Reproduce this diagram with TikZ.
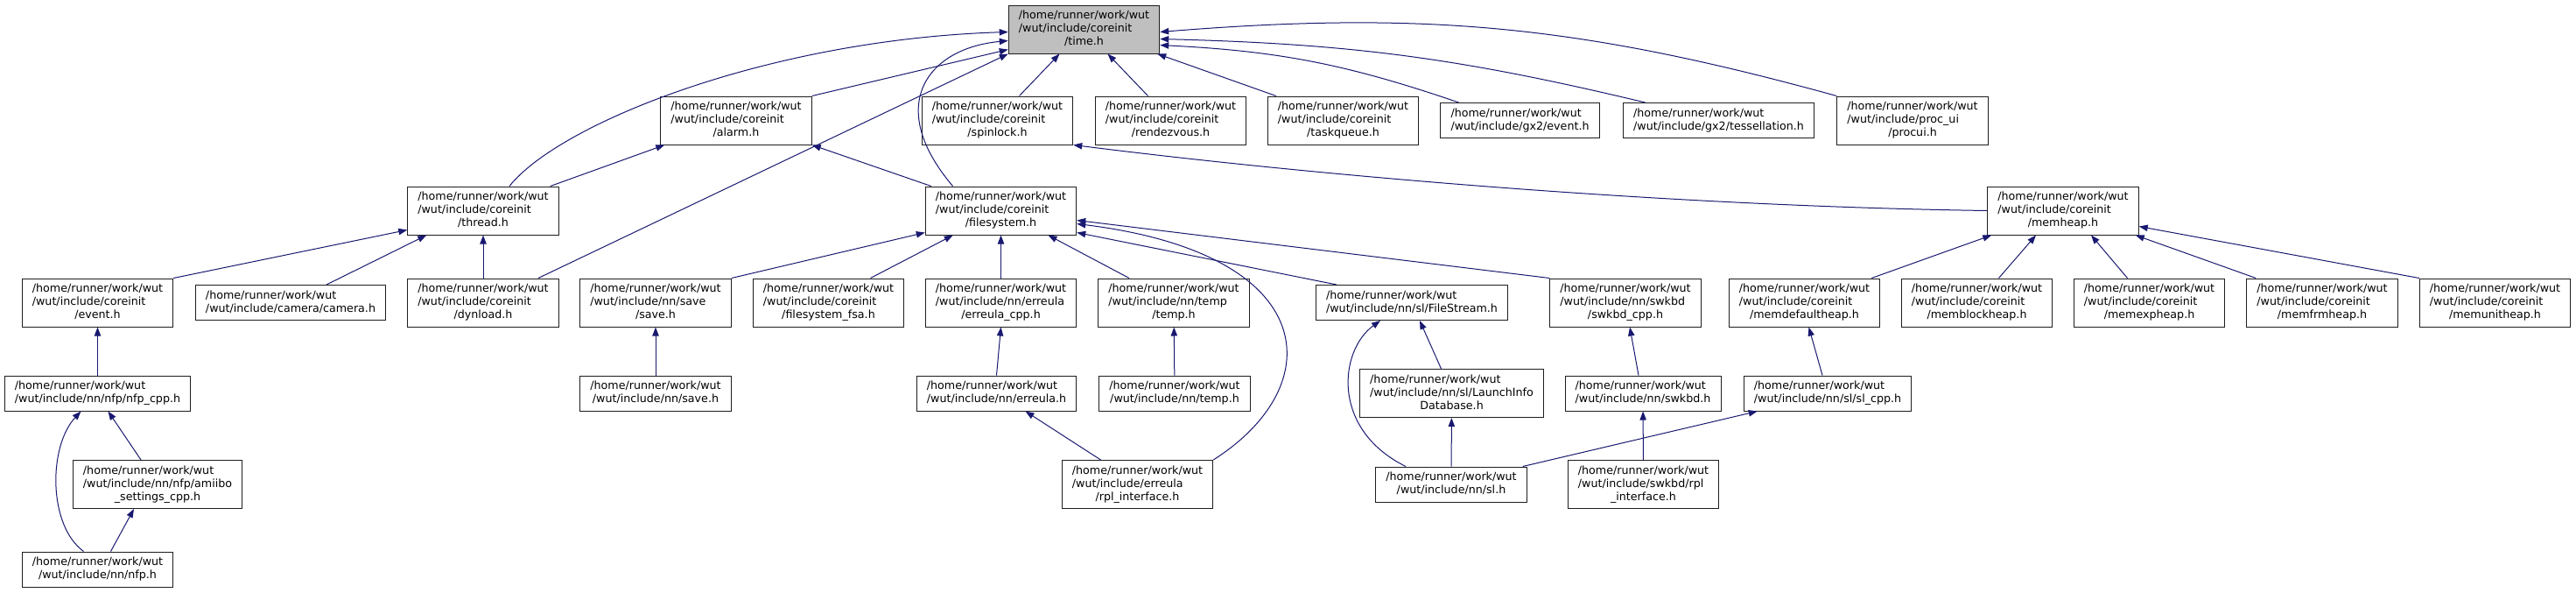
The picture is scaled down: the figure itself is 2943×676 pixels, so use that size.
\documentclass[tikz,border=0pt]{standalone}
\usepackage{fontspec}
\setmainfont{DejaVu Sans}
\usepackage{xcolor}
\definecolor{dxblue}{RGB}{25,25,112}
\definecolor{dxgray}{RGB}{191,191,191}
\definecolor{dxline}{RGB}{30,30,30}
\usetikzlibrary{arrows.meta,calc}
\newcommand{\incfile}[2]{\begin{tabular}{@{}l@{}}#1\\\multicolumn{1}{@{}c@{}}{#2}\end{tabular}}

\begin{document}
\begin{tikzpicture}[
  x=0.75pt,y=-0.75pt,
  every node/.style={font=\fontsize{9.5}{11.25}\selectfont},
  filebox/.style={draw=dxline,fill=white,line width=0.75pt,inner xsep=8.7pt,inner ysep=3.75pt},
  rootbox/.style={filebox,fill=dxgray},
  dep/.style={-{Triangle[length=7.5pt,width=5.5pt]},line width=0.75pt,dxblue},
]
  \useasboundingbox (0,0) rectangle (2943,676);

  % Root
  \node[rootbox] (time) at (1238.5,33.5) {\incfile{/home/runner/work/wut\\/wut/include/coreinit}{/time.h}};

  % Direct includers
  \node[filebox] (alarm) at (841,137.5) {\incfile{/home/runner/work/wut\\/wut/include/coreinit}{/alarm.h}};
  \node[filebox] (spinlock) at (1139.5,137.5) {\incfile{/home/runner/work/wut\\/wut/include/coreinit}{/spinlock.h}};
  \node[filebox] (rendezvous) at (1337.5,137.5) {\incfile{/home/runner/work/wut\\/wut/include/coreinit}{/rendezvous.h}};
  \node[filebox] (taskqueue) at (1534.5,137.5) {\incfile{/home/runner/work/wut\\/wut/include/coreinit}{/taskqueue.h}};
  \node[filebox] (gx2event) at (1736.5,137.5) {\incfile{/home/runner/work/wut}{/wut/include/gx2/event.h}};
  \node[filebox] (tessellation) at (1963.5,137.5) {\incfile{/home/runner/work/wut}{/wut/include/gx2/tessellation.h}};
  \node[filebox] (procui) at (2185,137.5) {\incfile{/home/runner/work/wut\\/wut/include/proc\_ui}{/procui.h}};

  % Second level
  \node[filebox] (thread) at (552,240.5) {\incfile{/home/runner/work/wut\\/wut/include/coreinit}{/thread.h}};
  \node[filebox] (filesystem) at (1143.5,240.5) {\incfile{/home/runner/work/wut\\/wut/include/coreinit}{/filesystem.h}};
  \node[filebox] (memheap) at (2357,240.5) {\incfile{/home/runner/work/wut\\/wut/include/coreinit}{/memheap.h}};

  % Third level
  \node[filebox] (cevent) at (111.5,345.5) {\incfile{/home/runner/work/wut\\/wut/include/coreinit}{/event.h}};
  \node[filebox] (camera) at (332,345.5) {\incfile{/home/runner/work/wut}{/wut/include/camera/camera.h}};
  \node[filebox] (dynload) at (552,345.5) {\incfile{/home/runner/work/wut\\/wut/include/coreinit}{/dynload.h}};
  \node[filebox] (savedir) at (749,345.5) {\incfile{/home/runner/work/wut\\/wut/include/nn/save}{/save.h}};
  \node[filebox] (fsa) at (946.5,345.5) {\incfile{/home/runner/work/wut\\/wut/include/coreinit}{/filesystem\_fsa.h}};
  \node[filebox] (erreulacpp) at (1143.5,345.5) {\incfile{/home/runner/work/wut\\/wut/include/nn/erreula}{/erreula\_cpp.h}};
  \node[filebox] (tempdir) at (1341,345.5) {\incfile{/home/runner/work/wut\\/wut/include/nn/temp}{/temp.h}};
  \node[filebox] (filestream) at (1613,345.5) {\incfile{/home/runner/work/wut}{/wut/include/nn/sl/FileStream.h}};
  \node[filebox] (swkbdcpp) at (1857,345.5) {\incfile{/home/runner/work/wut\\/wut/include/nn/swkbd}{/swkbd\_cpp.h}};
  \node[filebox] (memdefault) at (2061.5,345.5) {\incfile{/home/runner/work/wut\\/wut/include/coreinit}{/memdefaultheap.h}};
  \node[filebox] (memblock) at (2258.5,345.5) {\incfile{/home/runner/work/wut\\/wut/include/coreinit}{/memblockheap.h}};
  \node[filebox] (memexp) at (2455.5,345.5) {\incfile{/home/runner/work/wut\\/wut/include/coreinit}{/memexpheap.h}};
  \node[filebox] (memfrm) at (2653,345.5) {\incfile{/home/runner/work/wut\\/wut/include/coreinit}{/memfrmheap.h}};
  \node[filebox] (memunit) at (2850.5,345.5) {\incfile{/home/runner/work/wut\\/wut/include/coreinit}{/memunitheap.h}};

  % Fourth level
  \node[filebox] (nfpcpp) at (111.5,449) {\incfile{/home/runner/work/wut}{/wut/include/nn/nfp/nfp\_cpp.h}};
  \node[filebox] (save) at (749,449) {\incfile{/home/runner/work/wut}{/wut/include/nn/save.h}};
  \node[filebox] (erreula) at (1138.5,449) {\incfile{/home/runner/work/wut}{/wut/include/nn/erreula.h}};
  \node[filebox] (temp) at (1342,449) {\incfile{/home/runner/work/wut}{/wut/include/nn/temp.h}};
  \node[filebox] (launchinfo) at (1658.5,449) {\incfile{/home/runner/work/wut\\/wut/include/nn/sl/LaunchInfo}{Database.h}};
  \node[filebox] (swkbd) at (1877,449) {\incfile{/home/runner/work/wut}{/wut/include/nn/swkbd.h}};
  \node[filebox] (slcpp) at (2088,449) {\incfile{/home/runner/work/wut}{/wut/include/nn/sl/sl\_cpp.h}};

  % Fifth level
  \node[filebox] (amiibo) at (180,553) {\incfile{/home/runner/work/wut\\/wut/include/nn/nfp/amiibo}{\_settings\_cpp.h}};
  \node[filebox] (rpl) at (1299.5,553) {\incfile{/home/runner/work/wut\\/wut/include/erreula}{/rpl\_interface.h}};
  \node[filebox] (sl) at (1658,553) {\incfile{/home/runner/work/wut}{/wut/include/nn/sl.h}};
  \node[filebox] (swkbdrpl) at (1877.5,553) {\incfile{/home/runner/work/wut\\/wut/include/swkbd/rpl}{\_interface.h}};

  % Sixth level
  \node[filebox] (nfp) at (111.5,650) {\incfile{/home/runner/work/wut}{/wut/include/nn/nfp.h}};

  % Into time.h
  \draw[dep] ($(thread.north)+(30,0)$) .. controls (640,140) and (880,45) .. ($(time.west)+(0,3)$);
  \draw[dep] (alarm.north east) -- ($(time.west)+(0,23)$);
  \draw[dep] ($(dynload.north)+(63,0)$) -- (time.south west);
  \draw[dep] ($(filesystem.north)+(-55,0)$) .. controls (1010,120) and (1060,55) .. ($(time.west)+(0,13)$);
  \draw[dep] ($(spinlock.north)+(25,0)$) -- ($(time.south)+(-28,0)$);
  \draw[dep] ($(rendezvous.north)+(-26,0)$) -- ($(time.south)+(27,0)$);
  \draw[dep] ($(taskqueue.north west)+(10,0)$) -- ($(time.south east)+(-3,0)$);
  \draw[dep] ($(gx2event.north)+(-70,0)$) to[bend right=8] ($(time.east)+(0,18)$);
  \draw[dep] ($(tessellation.north)+(-84,0)$) to[bend right=6] ($(time.east)+(0,11)$);
  \draw[dep] (procui.north west) to[bend right=10] ($(time.east)+(0,3)$);

  % Into alarm.h and spinlock.h
  \draw[dep] ($(thread.north east)+(-10,0)$) -- ($(alarm.south west)+(5,0)$);
  \draw[dep] ($(filesystem.north west)+(7,0)$) -- (alarm.south east);
  \draw[dep] (memheap.west) .. controls (1900,235) and (1500,200) .. (spinlock.south east);

  % Into thread.h
  \draw[dep] (cevent.north east) -- ($(thread.south west)+(0,-6)$);
  \draw[dep] ($(camera.north)+(41,0)$) -- ($(thread.south west)+(22,0)$);
  \draw[dep] (dynload) -- (thread);

  % Into filesystem.h
  \draw[dep] (savedir.north east) -- ($(filesystem.south west)+(0,-3)$);
  \draw[dep] ($(fsa.north)+(48,0)$) -- ($(filesystem.south west)+(32,0)$);
  \draw[dep] (erreulacpp) -- (filesystem);
  \draw[dep] ($(tempdir.north)+(-51,0)$) -- ($(filesystem.south)+(54,0)$);
  \draw[dep] ($(filestream.north west)+(24,0)$) -- ($(filesystem.south east)+(0,-3)$);
  \draw[dep] (swkbdcpp.north west) -- ($(filesystem.east)+(0,11)$);
  \draw[dep] (rpl.north east) .. controls (1520,440) and (1510,290) .. ($(filesystem.east)+(0,15)$);

  % Into memheap.h
  \draw[dep] ($(memdefault.north east)+(-10,0)$) -- ($(memheap.south west)+(5,0)$);
  \draw[dep] ($(memblock.north)+(25,0)$) -- ($(memheap.south)+(-31,0)$);
  \draw[dep] ($(memexp.north)+(-25,0)$) -- ($(memheap.south)+(32,0)$);
  \draw[dep] ($(memfrm.north west)+(11,0)$) -- ($(memheap.south east)+(-4,0)$);
  \draw[dep] (memunit.north west) -- ($(memheap.east)+(0,18)$);

  % Lower levels
  \draw[dep] (nfpcpp) -- (cevent);
  \draw[dep] (save) -- (savedir);
  \draw[dep] (erreula.north) -- (erreulacpp.south);
  \draw[dep] (temp) -- (tempdir);
  \draw[dep] ($(launchinfo.north)+(-12,0)$) -- ($(filestream.south)+(9,0)$);
  \draw[dep] ($(swkbd.north)+(-5,0)$) -- ($(swkbdcpp.south)+(5,0)$);
  \draw[dep] ($(slcpp.north)+(-6,0)$) -- ($(memdefault.south)+(5,0)$);
  \draw[dep] ($(amiibo.north)+(-19,0)$) -- ($(nfpcpp.south)+(12,0)$);
  \draw[dep] ($(rpl.north)+(-42,0)$) -- ($(erreula.south)+(33,0)$);
  \draw[dep] ($(sl.north)+(-52,0)$) .. controls (1520,490) and (1530,400) .. ($(filestream.south)+(-36,0)$);
  \draw[dep] (sl) -- (launchinfo);
  \draw[dep] ($(sl.north east)+(-5,0)$) -- ($(slcpp.south west)+(16,0)$);
  \draw[dep] (swkbdrpl) -- (swkbd);
  \draw[dep] ($(nfp.north)+(-16,0)$) .. controls (55,600) and (55,510) .. ($(nfpcpp.south)+(-19,0)$);
  \draw[dep] ($(nfp.north)+(15,0)$) -- ($(amiibo.south)+(-27,0)$);
\end{tikzpicture}
\end{document}
